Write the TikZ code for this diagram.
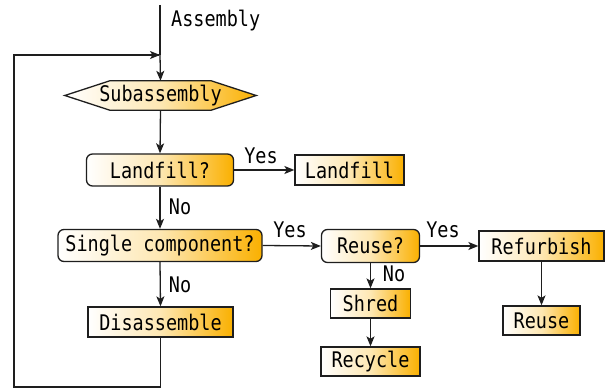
\documentclass[tikz,border=0pt]{standalone}
\usepackage{fontspec}
\newfontfamily\gothic[FakeStretch=0.86]{DejaVu Sans Mono}
\usetikzlibrary{arrows.meta,calc}
\definecolor{amber}{RGB}{250,176,0}
\definecolor{edge}{RGB}{30,30,30}
\tikzset{
  every node/.style={font=\gothic\fontsize{21.5}{24}\selectfont, inner sep=0pt},
  flow/.style={draw=edge, line width=1.3pt, -{Stealth[length=10pt,width=8pt,inset=2.5pt]}},
  wire/.style={draw=edge, line width=1.3pt},
  boxfill/.style={left color=white, right color=amber, middle color={amber!30!white}},
  stepbox/.style={boxfill, draw=edge, line width=1.3pt},
  askbox/.style={boxfill, draw=edge, line width=1.3pt, rounded corners=6pt}
}
\begin{document}
\begin{tikzpicture}[x=1pt,y=-1pt]
\useasboundingbox (0,0) rectangle (611,390);

% entry point and loop junction
\coordinate (top) at (160,5);
\coordinate (join) at (160,55);

% hexagonal subassembly node
\node[minimum width=191pt, minimum height=29pt] (sub) at (160.5,95.5) {};
\path[boxfill, draw=edge, line width=1.3pt]
  (sub.west) -- ($(sub.north west)+(45,0)$) -- ($(sub.north east)+(-45,0)$)
  -- (sub.east) -- ($(sub.south east)+(-45,0)$) -- ($(sub.south west)+(45,0)$) -- cycle;
\node at (sub) {Subassembly};

% decisions and steps
\node[askbox, minimum width=147pt, minimum height=32pt] (land?) at (160,170) {Landfill?};
\node[stepbox, minimum width=109pt, minimum height=30pt] (land) at (349.5,170) {Landfill};
\node[askbox, minimum width=204pt, minimum height=32pt] (single) at (160,245.5) {Single component?};
\node[askbox, minimum width=98pt, minimum height=33pt] (reuse?) at (370.5,246) {Reuse?};
\node[stepbox, minimum width=125pt, minimum height=30pt] (refurb) at (541.5,246) {Refurbish};
\node[stepbox, minimum width=80pt, minimum height=29pt] (shred) at (370.5,303.5) {Shred};
\node[stepbox, minimum width=99pt, minimum height=29pt] (recycle) at (370.5,361.5) {Recycle};
\node[stepbox, minimum width=77pt, minimum height=29pt] (reuse) at (541.5,320.5) {Reuse};
\node[stepbox, minimum width=145pt, minimum height=30pt] (dis) at (160.5,322) {Disassemble};

% connectors
\draw[wire] (top) -- (join);
\draw[flow] (join) -- (sub.north);
\draw[flow] (sub.south) -- (land?.north);
\draw[flow] (land?.east) -- (land.west);
\draw[flow] (land?.south) -- (single.north);
\draw[flow] (single.east) -- (reuse?.west);
\draw[flow] (reuse?.east) -- (refurb.west);
\draw[flow] (reuse?.south) -- (shred.north);
\draw[flow] (shred.south) -- (recycle.north);
\draw[flow] (refurb.south) -- (reuse.north);
\draw[flow] (single.south) -- (dis.north);
\coordinate (loopA) at (160.5,387);
\coordinate (loopB) at (14,387);
\coordinate (loopC) at (14,55);
\draw[wire] (dis.south) -- (loopA) -- (loopB) -- (loopC) -- ($(join)+(-1,0)$);
\draw[flow] (loopC) -- (join);

% labels
\node[anchor=west] (asm) at (171,21) {Assembly};
\node (y1) at (261,156) {Yes};
\node (n1) at (180,207) {No};
\node (y2) at (290,230) {Yes};
\node (y3) at (443,230) {Yes};
\node (n2) at (394,274) {No};
\node (n3) at (180,285) {No};
\end{tikzpicture}
\end{document}
